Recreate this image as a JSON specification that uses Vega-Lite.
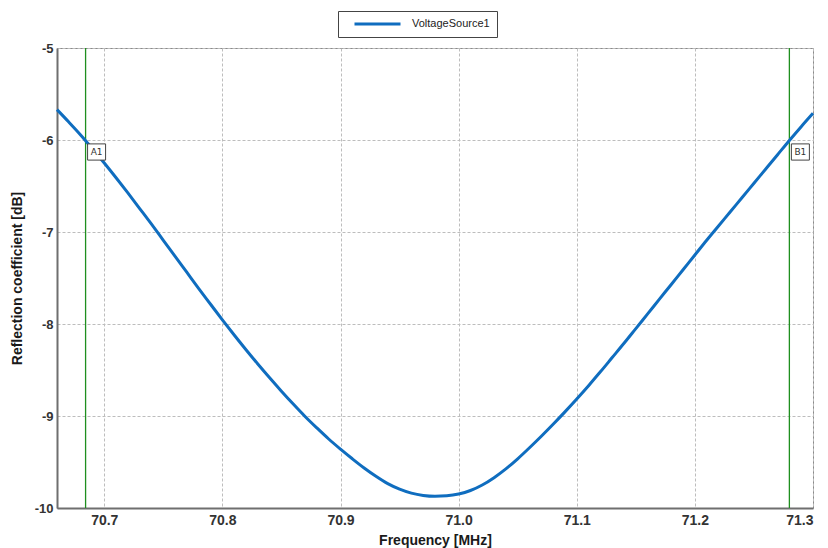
{
  "$schema": "https://vega.github.io/schema/vega-lite/v6.json",
  "width": 756,
  "height": 460,
  "autosize": {"type": "none"},
  "padding": {"left": 57, "top": 48, "right": 15, "bottom": 40},
  "background": "white",
  "config": {
    "font": "Liberation Sans",
    "view": {"stroke": "#8a8a8a", "strokeWidth": 1}
  },
  "datasets": {
    "curve": [
      {"f": 70.660, "db": -5.670, "series": "VoltageSource1"},
      {"f": 70.670, "db": -5.805, "series": "VoltageSource1"},
      {"f": 70.680, "db": -5.945, "series": "VoltageSource1"},
      {"f": 70.690, "db": -6.095, "series": "VoltageSource1"},
      {"f": 70.700, "db": -6.250, "series": "VoltageSource1"},
      {"f": 70.710, "db": -6.410, "series": "VoltageSource1"},
      {"f": 70.720, "db": -6.575, "series": "VoltageSource1"},
      {"f": 70.730, "db": -6.745, "series": "VoltageSource1"},
      {"f": 70.740, "db": -6.915, "series": "VoltageSource1"},
      {"f": 70.750, "db": -7.090, "series": "VoltageSource1"},
      {"f": 70.760, "db": -7.265, "series": "VoltageSource1"},
      {"f": 70.770, "db": -7.440, "series": "VoltageSource1"},
      {"f": 70.780, "db": -7.615, "series": "VoltageSource1"},
      {"f": 70.790, "db": -7.785, "series": "VoltageSource1"},
      {"f": 70.800, "db": -7.955, "series": "VoltageSource1"},
      {"f": 70.810, "db": -8.120, "series": "VoltageSource1"},
      {"f": 70.820, "db": -8.280, "series": "VoltageSource1"},
      {"f": 70.830, "db": -8.435, "series": "VoltageSource1"},
      {"f": 70.840, "db": -8.585, "series": "VoltageSource1"},
      {"f": 70.850, "db": -8.730, "series": "VoltageSource1"},
      {"f": 70.860, "db": -8.870, "series": "VoltageSource1"},
      {"f": 70.870, "db": -9.005, "series": "VoltageSource1"},
      {"f": 70.880, "db": -9.130, "series": "VoltageSource1"},
      {"f": 70.890, "db": -9.250, "series": "VoltageSource1"},
      {"f": 70.900, "db": -9.360, "series": "VoltageSource1"},
      {"f": 70.910, "db": -9.465, "series": "VoltageSource1"},
      {"f": 70.920, "db": -9.565, "series": "VoltageSource1"},
      {"f": 70.930, "db": -9.655, "series": "VoltageSource1"},
      {"f": 70.940, "db": -9.735, "series": "VoltageSource1"},
      {"f": 70.950, "db": -9.795, "series": "VoltageSource1"},
      {"f": 70.960, "db": -9.838, "series": "VoltageSource1"},
      {"f": 70.970, "db": -9.863, "series": "VoltageSource1"},
      {"f": 70.980, "db": -9.872, "series": "VoltageSource1"},
      {"f": 70.990, "db": -9.867, "series": "VoltageSource1"},
      {"f": 71.000, "db": -9.848, "series": "VoltageSource1"},
      {"f": 71.010, "db": -9.810, "series": "VoltageSource1"},
      {"f": 71.020, "db": -9.750, "series": "VoltageSource1"},
      {"f": 71.030, "db": -9.670, "series": "VoltageSource1"},
      {"f": 71.040, "db": -9.575, "series": "VoltageSource1"},
      {"f": 71.050, "db": -9.465, "series": "VoltageSource1"},
      {"f": 71.060, "db": -9.345, "series": "VoltageSource1"},
      {"f": 71.070, "db": -9.220, "series": "VoltageSource1"},
      {"f": 71.080, "db": -9.090, "series": "VoltageSource1"},
      {"f": 71.090, "db": -8.955, "series": "VoltageSource1"},
      {"f": 71.100, "db": -8.815, "series": "VoltageSource1"},
      {"f": 71.110, "db": -8.670, "series": "VoltageSource1"},
      {"f": 71.120, "db": -8.520, "series": "VoltageSource1"},
      {"f": 71.130, "db": -8.365, "series": "VoltageSource1"},
      {"f": 71.140, "db": -8.210, "series": "VoltageSource1"},
      {"f": 71.150, "db": -8.050, "series": "VoltageSource1"},
      {"f": 71.160, "db": -7.890, "series": "VoltageSource1"},
      {"f": 71.170, "db": -7.730, "series": "VoltageSource1"},
      {"f": 71.180, "db": -7.570, "series": "VoltageSource1"},
      {"f": 71.190, "db": -7.410, "series": "VoltageSource1"},
      {"f": 71.200, "db": -7.250, "series": "VoltageSource1"},
      {"f": 71.210, "db": -7.090, "series": "VoltageSource1"},
      {"f": 71.220, "db": -6.935, "series": "VoltageSource1"},
      {"f": 71.230, "db": -6.780, "series": "VoltageSource1"},
      {"f": 71.240, "db": -6.625, "series": "VoltageSource1"},
      {"f": 71.250, "db": -6.470, "series": "VoltageSource1"},
      {"f": 71.260, "db": -6.315, "series": "VoltageSource1"},
      {"f": 71.270, "db": -6.160, "series": "VoltageSource1"},
      {"f": 71.280, "db": -6.005, "series": "VoltageSource1"},
      {"f": 71.290, "db": -5.855, "series": "VoltageSource1"},
      {"f": 71.300, "db": -5.710, "series": "VoltageSource1"}
    ],
    "markers": [
      {"marker": "A1", "f": 70.6842, "db": -6.0},
      {"marker": "B1", "f": 71.2800, "db": -6.0}
    ]
  },
  "layer": [
    {
      "data": {"name": "markers"},
      "mark": {"type": "rule", "color": "#1f8f1f", "strokeWidth": 1.3, "opacity": 1},
      "encoding": {
        "x": {
          "field": "f",
          "type": "quantitative",
          "scale": {"domain": [70.66, 71.3], "nice": false, "zero": false},
          "axis": {
            "values": [70.7, 70.8, 70.9, 71.0, 71.1, 71.2, 71.3],
            "format": ".1f",
            "title": "Frequency [MHz]",
            "labelFont": "Liberation Sans",
            "labelFontWeight": "bold",
            "labelFontSize": 14,
            "labelColor": "#333333",
            "labelPadding": 5,
            "ticks": false,
            "grid": true,
            "gridColor": "#bdbdbd",
            "gridDash": [3, 2],
            "gridWidth": 1,
            "domainColor": "#6f6f6f",
            "domainWidth": 2,
            "titleFont": "Liberation Sans",
            "titleFontSize": 14,
            "titleFontWeight": "bold",
            "titleColor": "#1a1a1a",
            "titlePadding": 6
          }
        }
      }
    },
    {
      "data": {"name": "curve"},
      "mark": {"type": "line", "strokeWidth": 3, "interpolate": "monotone"},
      "encoding": {
        "x": {"field": "f", "type": "quantitative"},
        "y": {
          "field": "db",
          "type": "quantitative",
          "scale": {"domain": [-10, -5], "nice": false, "zero": false},
          "axis": {
            "values": [-10, -9, -8, -7, -6, -5],
            "labelExpr": "toString(datum.value)",
            "title": "Reflection coefficient [dB]",
            "labelFont": "Liberation Sans",
            "labelFontWeight": "bold",
            "labelFontSize": 13,
            "labelColor": "#333333",
            "labelPadding": 4,
            "ticks": false,
            "grid": true,
            "gridColor": "#bdbdbd",
            "gridDash": [3, 2],
            "gridWidth": 1,
            "domainColor": "#6f6f6f",
            "domainWidth": 2,
            "titleFont": "Liberation Sans",
            "titleFontSize": 14,
            "titleFontWeight": "bold",
            "titleColor": "#1a1a1a",
            "titlePadding": 10
          }
        },
        "color": {
          "field": "series",
          "type": "nominal",
          "scale": {"range": ["#0f6dbf"]},
          "legend": {
            "title": null,
            "orient": "none",
            "legendX": 281,
            "legendY": -37,
            "padding": 7,
            "clipHeight": 12,
            "symbolOffset": 8,
            "strokeColor": "#444444",
            "fillColor": "white",
            "symbolType": "stroke",
            "symbolSize": 2116,
            "symbolStrokeWidth": 3,
            "labelFont": "Liberation Sans",
            "labelFontSize": 11,
            "labelColor": "#222222",
            "labelOffset": 10
          }
        }
      }
    },
    {
      "data": {"name": "markers"},
      "mark": {
        "type": "point",
        "shape": "M-1,-0.9L1,-0.9L1,0.9L-1,0.9Z",
        "size": 324,
        "filled": true,
        "fill": "white",
        "stroke": "#444444",
        "strokeWidth": 1,
        "opacity": 1,
        "xOffset": 11,
        "yOffset": 12
      },
      "encoding": {
        "x": {"field": "f", "type": "quantitative"},
        "y": {"field": "db", "type": "quantitative"}
      }
    },
    {
      "data": {"name": "markers"},
      "mark": {
        "type": "text",
        "font": "DejaVu Sans",
        "fontSize": 9,
        "color": "#333333",
        "align": "center",
        "baseline": "middle",
        "xOffset": 11,
        "yOffset": 12
      },
      "encoding": {
        "x": {"field": "f", "type": "quantitative"},
        "y": {"field": "db", "type": "quantitative"},
        "text": {"field": "marker"}
      }
    }
  ]
}
